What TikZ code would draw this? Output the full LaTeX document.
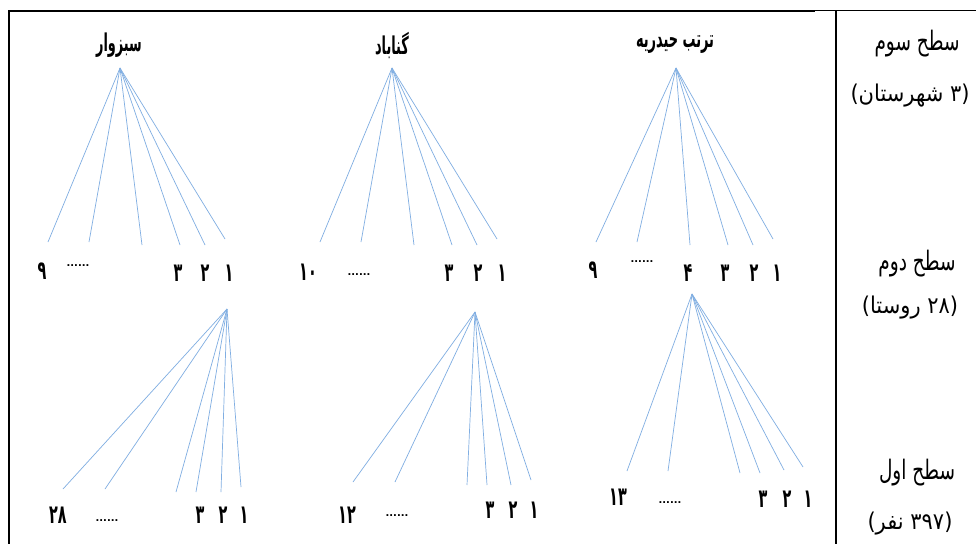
\documentclass[tikz,border=0pt]{standalone}
\usepackage{fontspec}
\newfontfamily\fa[Script=Arabic]{DejaVu Sans}
\TeXXeTstate=1
\definecolor{lineblue}{RGB}{128,174,226}
\newcommand{\dg}[1]{{\fa\bfseries\fontsize{20}{20}\selectfont\scalebox{0.72}[1.3]{#1}}}
\newcommand{\tl}[1]{{\fa\bfseries\fontsize{14}{14}\selectfont\scalebox{0.92}[1.75]{#1}}}
\newcommand{\lv}[1]{{\fa\fontsize{18.5}{18.5}\selectfont\scalebox{1}[1.45]{#1}}}
\newcommand{\lp}[1]{{\fa\fontsize{21}{21}\selectfont\scalebox{1}[1.1]{#1}}}
\begin{document}
\begin{tikzpicture}[x=1pt,y=-1pt,
  edge/.style={lineblue, line width=0.7pt},
  num/.style={inner sep=0pt, anchor=center},
  dotsx/.style={inner sep=0pt, font=\fontsize{10}{10}\selectfont\fa\bfseries},
  ttl/.style={inner sep=0pt},
  lvl/.style={inner sep=0pt, anchor=base}]
\useasboundingbox (0,0) rectangle (976,544);
\fill[white] (0,0) rectangle (976,544);
% table frame
\draw[line width=1.2pt] (8,11) -- (815,11);
\draw[line width=1.6pt] (815,10.6) -- (976,10.6);
\draw[line width=2pt] (8,10.5) -- (29,10.5);
\draw[line width=2pt] (9.3,10) -- (9.3,544);
\draw[line width=2pt] (835.5,10) -- (835.5,544);

% level labels
\node[lvl] (l3a) at (917,50) {\lv{\beginR سطح سوم\endR}};
\node[lvl] (l3b) at (910,101) {\lp{\beginR(۳ شهرستان)\endR}};
\node[lvl] (l2a) at (917,270) {\lv{\beginR سطح دوم\endR}};
\node[lvl] (l2b) at (910,313) {\lp{\beginR(۲۸ روستا)\endR}};
\node[lvl] (l1a) at (917,479) {\lv{\beginR سطح اول\endR}};
\node[lvl] (l1b) at (910,529) {\lp{\beginR(۳۹۷ نفر)\endR}};

% titles
\node[ttl] (tS) at (119,45) {\tl{سبزوار}};
\node[ttl] (tG) at (392,45) {\tl{گناباد}};
\node[ttl] (tH) at (675,45) {\tl{\beginR ترتب حیدریه\endR}};

% top trees
\coordinate (aS) at (120,68);
\coordinate (aG) at (392,68);
\coordinate (aH) at (676,68);
\foreach \n/\x/\y in {1/48/242,2/89/242,3/142/245,4/180/245,5/205/245,6/225/239}
  {\coordinate (aS\n) at (\x,\y); \draw[edge] (aS) -- (aS\n);}
\foreach \n/\x/\y in {1/320/242,2/361/242,3/414/245,4/452/245,5/477/245,6/497/239}
  {\coordinate (aG\n) at (\x,\y); \draw[edge] (aG) -- (aG\n);}
\foreach \n/\x/\y in {1/596/242,2/637/242,3/690/245,4/728/245,5/753/245,6/773/239}
  {\coordinate (aH\n) at (\x,\y); \draw[edge] (aH) -- (aH\n);}

% top labels
\node[num] (nS9) at (42,271) {\dg{۹}};
\node[dotsx] (nSd) at (78,266) {......};
\node[num] (nS3) at (178,273) {\dg{۳}};
\node[num] (nS2) at (205,273) {\dg{۲}};
\node[num] (nS1) at (229,273) {\dg{۱}};

\node[num] (nG10) at (308,272) {\dg{۱۰}};
\node[dotsx] (nGd) at (359,275) {......};
\node[num] (nG3) at (449,273) {\dg{۳}};
\node[num] (nG2) at (478,273) {\dg{۲}};
\node[num] (nG1) at (502,273) {\dg{۱}};

\node[num] (nH9) at (593,270) {\dg{۹}};
\node[dotsx] (nHd) at (642,262) {......};
\node[num] (nH4) at (688,273) {\dg{۴}};
\node[num] (nH3) at (725,273) {\dg{۳}};
\node[num] (nH2) at (754,273) {\dg{۲}};
\node[num] (nH1) at (777,273) {\dg{۱}};

% bottom trees
\coordinate (bS) at (227,309);
\coordinate (bG) at (475,312);
\coordinate (bH) at (692,294);
\foreach \n/\x/\y in {1/63/489,2/105/489,3/176/492,4/196/492,5/221/492,6/241/487}
  {\coordinate (bS\n) at (\x,\y); \draw[edge] (bS) -- (bS\n);}
\foreach \n/\x/\y in {1/353/482,2/395/482,3/467/485,4/487/485,5/511/485,6/531/480}
  {\coordinate (bG\n) at (\x,\y); \draw[edge] (bG) -- (bG\n);}
\foreach \n/\x/\y in {1/627/471,2/668/471,3/740/473,4/760/473,5/784/470,6/803/467}
  {\coordinate (bH\n) at (\x,\y); \draw[edge] (bH) -- (bH\n);}

% bottom labels
\node[num] (mS28) at (58,515) {\dg{۲۸}};
\node[dotsx] (mSd) at (107,521) {......};
\node[num] (mS3) at (200,515) {\dg{۳}};
\node[num] (mS2) at (223,515) {\dg{۲}};
\node[num] (mS1) at (244,515) {\dg{۱}};

\node[num] (mG12) at (347,515) {\dg{۱۲}};
\node[dotsx] (mGd) at (397,516) {......};
\node[num] (mG3) at (490,510) {\dg{۳}};
\node[num] (mG2) at (513,510) {\dg{۲}};
\node[num] (mG1) at (534,510) {\dg{۱}};

\node[num] (mH13) at (618,497) {\dg{۱۳}};
\node[dotsx] (mHd) at (670,503) {......};
\node[num] (mH3) at (763,499) {\dg{۳}};
\node[num] (mH2) at (787,499) {\dg{۲}};
\node[num] (mH1) at (808,499) {\dg{۱}};
\end{tikzpicture}
\end{document}
